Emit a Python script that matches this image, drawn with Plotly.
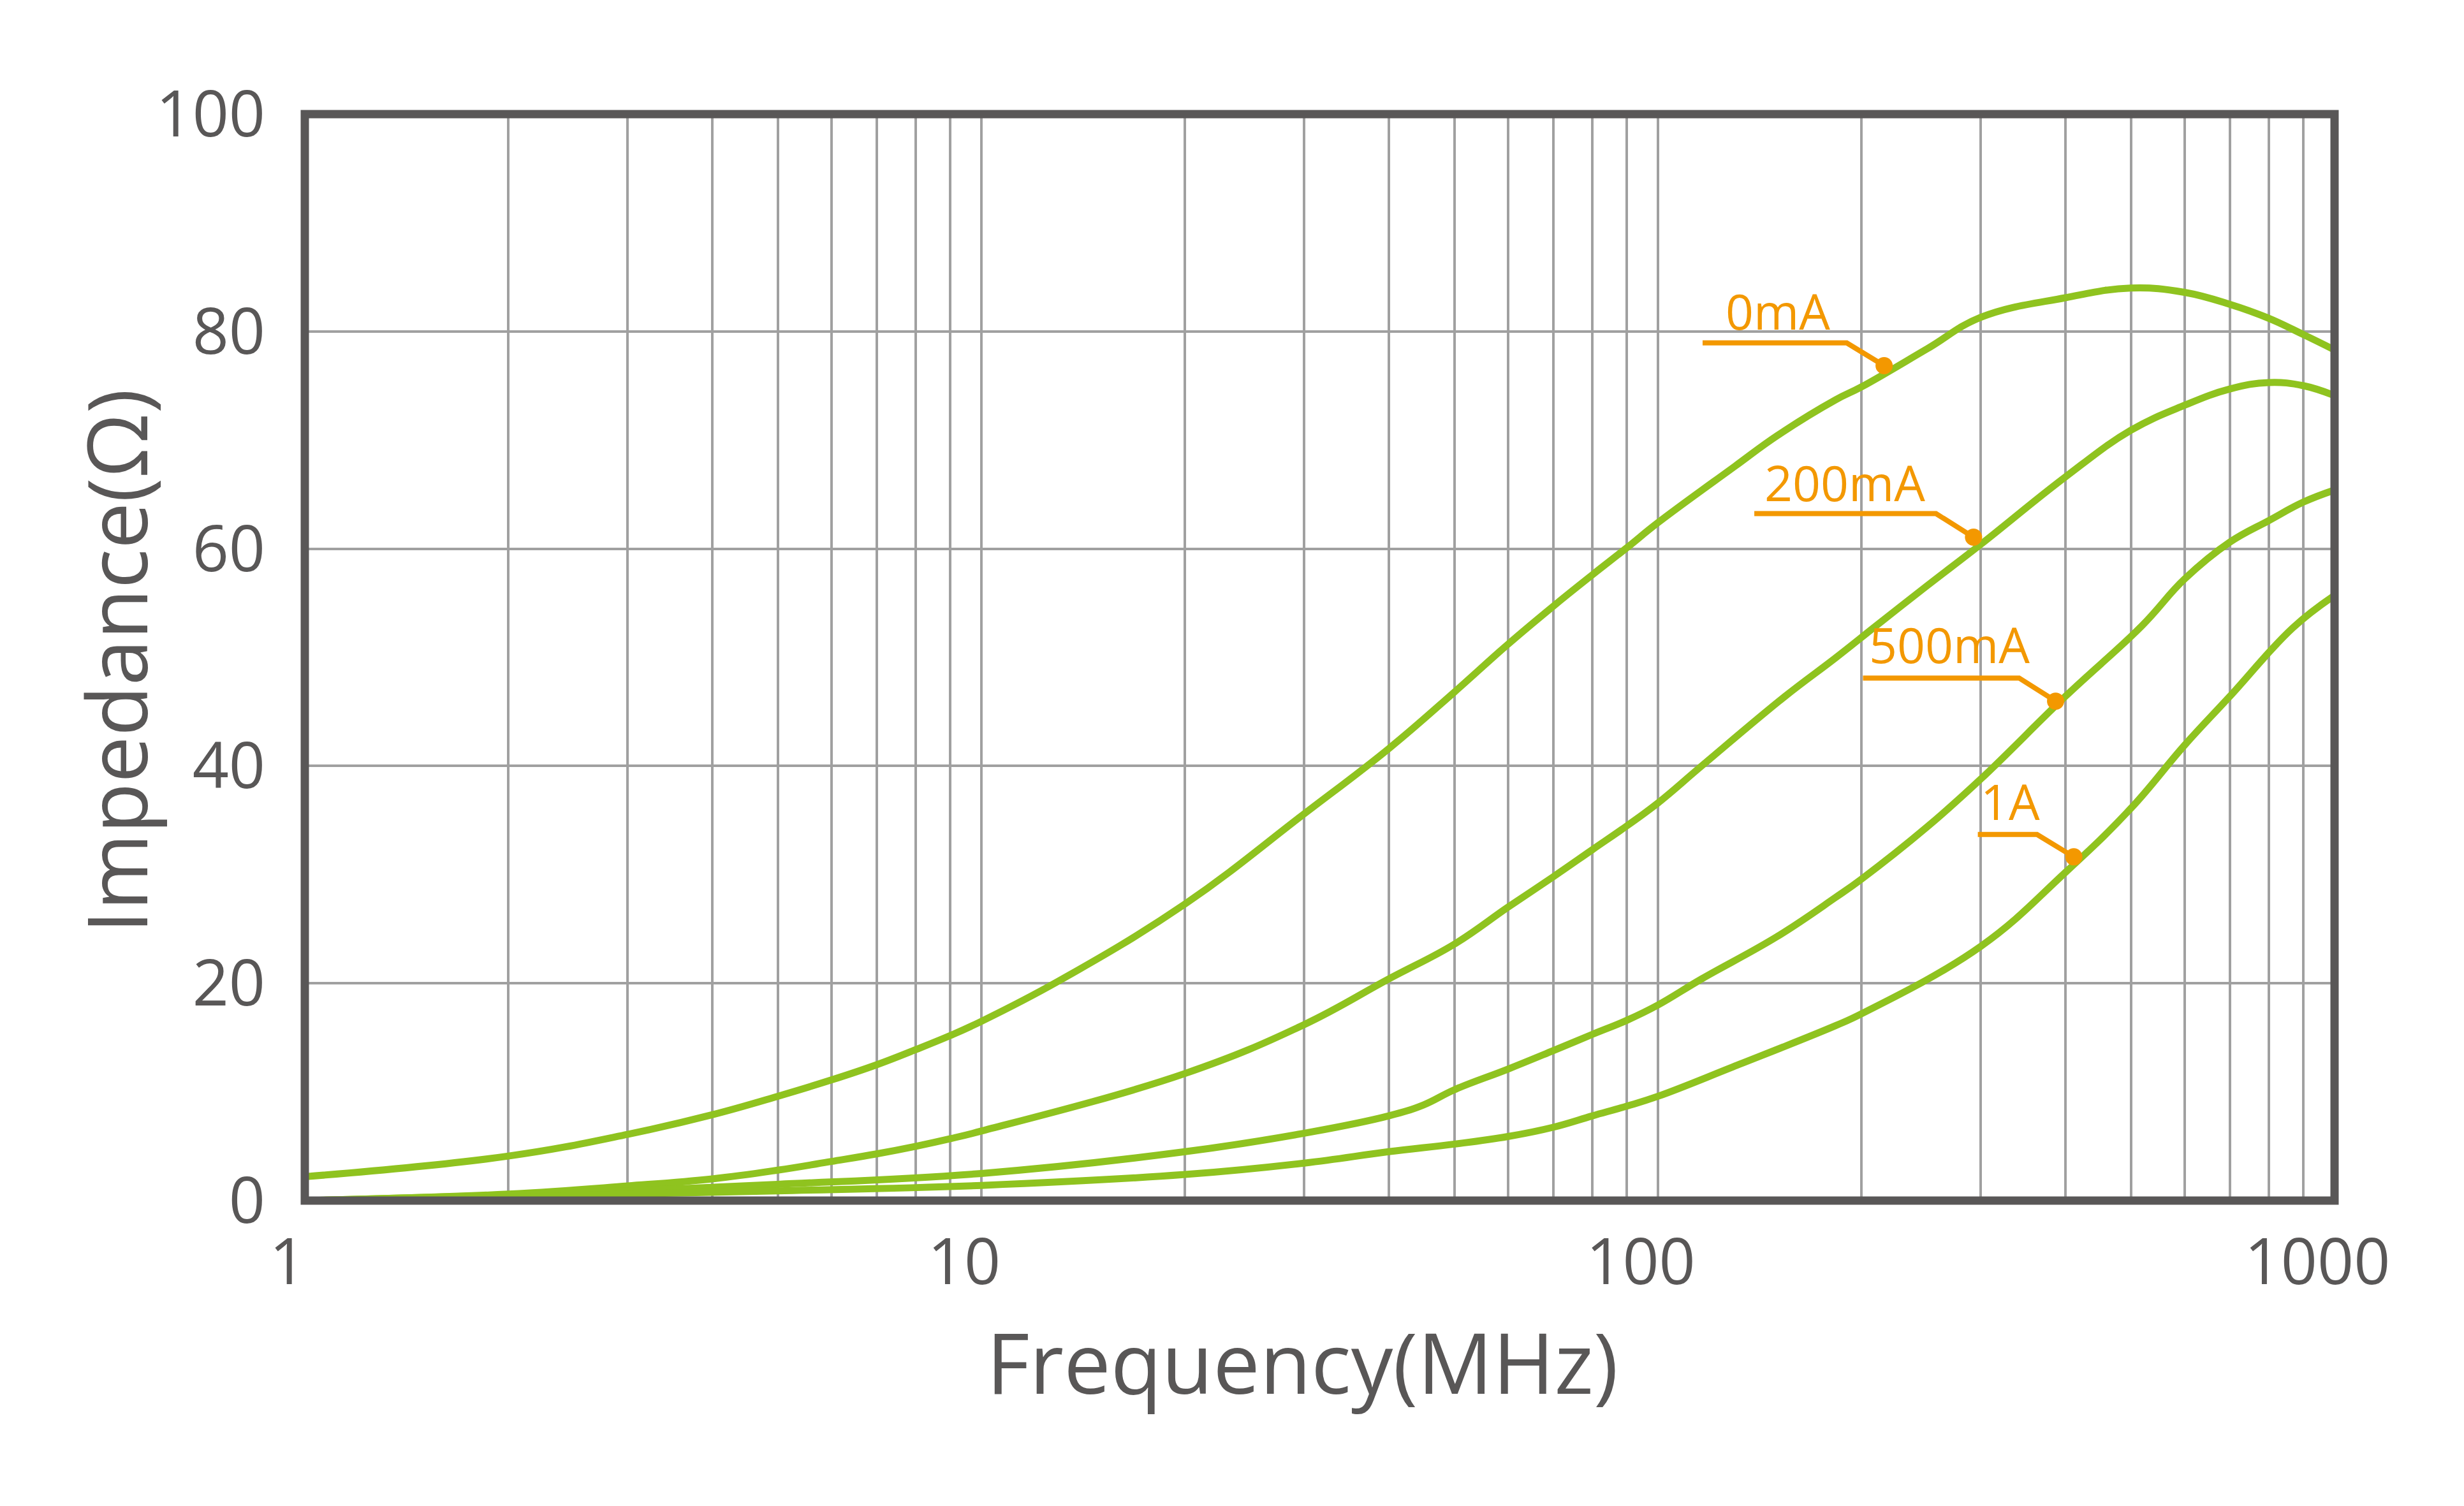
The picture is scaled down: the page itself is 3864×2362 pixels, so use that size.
import math
import plotly.graph_objects as go

# ---------------- data ----------------
freq_0mA = [1, 2, 3, 4, 5, 6, 7, 8, 9, 10, 13, 20, 30, 40, 50, 60, 70, 80, 90, 100,
            130, 150, 183, 200, 250, 300, 400, 500, 600, 700, 800, 900, 1000]
imp_0mA = [2.2, 4.1, 6.1, 7.9, 9.6, 11.1, 12.5, 13.9, 15.2, 16.5, 20.2, 27.3, 35.6, 41.6, 46.8, 51.2,
           54.7, 57.6, 60.1, 62.4, 67.6, 70.4, 73.7, 74.9, 78.4, 81.3, 83.1, 84.0, 83.6, 82.5, 81.2, 79.7, 78.3]

freq_200mA = [1, 2, 3, 4, 5, 6, 7, 8, 9, 10, 20, 30, 40, 50, 60, 70, 80, 90, 100, 116,
              154, 183, 210, 250, 300, 400, 500, 600, 700, 800, 900, 1000]
imp_200mA = [0.0, 0.6, 1.35, 2.0, 2.8, 3.6, 4.3, 5.0, 5.7, 6.4, 11.7, 16.2, 20.4, 23.6, 27.0, 29.8,
             32.3, 34.5, 36.6, 40.0, 46.4, 49.95, 52.9, 56.6, 60.4, 66.6, 70.9, 73.2, 74.7, 75.3, 75.0, 74.1]

freq_500mA = [1, 2, 3, 5, 10, 20, 30, 40, 45, 50, 60, 70, 80, 90, 100, 116, 150, 183, 200,
              250, 300, 400, 519, 600, 700, 800, 900, 1000]
imp_500mA = [0.0, 0.5, 0.9, 1.5, 2.5, 4.5, 6.2, 7.8, 8.8, 10.2, 12.1, 13.8, 15.3, 16.6, 18.0, 20.4,
             24.3, 27.9, 29.6, 34.4, 38.8, 46.4, 52.9, 57.2, 60.6, 62.6, 64.3, 65.4]

freq_1A = [1, 2, 3, 5, 10, 20, 30, 40, 50, 60, 70, 80, 90, 100, 129, 183, 200, 300, 400,
           500, 600, 700, 867, 1000]
imp_1A = [0.0, 0.3, 0.6, 0.9, 1.4, 2.4, 3.45, 4.5, 5.2, 5.9, 6.75, 7.8, 8.7, 9.6, 12.3, 16.1, 17.2,
          23.4, 30.2, 36.1, 41.9, 46.4, 52.7, 55.7]

series_names = ["0mA", "200mA", "500mA", "1A"]

# label leader lines: [start of underline, elbow, dot] in (MHz, Ohm)
label_line_freq = {
    "0mA": [116.4, 190.1, 215.9],
    "200mA": [138.8, 257.6, 292.7],
    "500mA": [200.9, 341.8, 387.0],
    "1A": [297.0, 363.3, 411.7],
}
label_line_imp = {
    "0mA": [78.94, 78.94, 76.85],
    "200mA": [63.23, 63.23, 61.06],
    "500mA": [48.1, 48.1, 45.97],
    "1A": [33.7, 33.7, 31.64],
}
label_text_freq = {"0mA": 150.4, "200mA": 188.7, "500mA": 269.6, "1A": 331.4}
label_text_imp = {"0mA": 79.9, "200mA": 64.1, "500mA": 49.2, "1A": 34.74}

x_major = [1, 10, 100, 1000]
x_grid = [m * d for d in [1, 10, 100] for m in range(1, 10)] + [1000]
x_ticktext = [str(v) if v in x_major else "" for v in x_grid]
y_ticks = [0, 20, 40, 60, 80, 100]

# ---------------- styles ----------------
GREEN = "#8FC31F"
ORANGE = "#F39800"
DARK = "#595757"
GRID = "#A0A0A0"
FONT = "Open Sans"

# page body has an 8px margin, so the figure is offset by 8px
W, H = 3848, 2346
ML, MT = 470, 171
PW, PH = 3183, 1704
MR = W - ML - PW
MB = H - MT - PH

fig = go.Figure()

curves = [(freq_0mA, imp_0mA), (freq_200mA, imp_200mA), (freq_500mA, imp_500mA), (freq_1A, imp_1A)]
for name, (fx, zy) in zip(series_names, curves):
    fig.add_trace(go.Scatter(
        x=fx, y=zy, mode="lines", name=name,
        line=dict(color=GREEN, width=11, shape="spline", smoothing=1.15),
        showlegend=False, hoverinfo="skip",
    ))

for name in series_names:
    fig.add_trace(go.Scatter(
        x=label_line_freq[name], y=label_line_imp[name], mode="lines",
        line=dict(color=ORANGE, width=8), showlegend=False, hoverinfo="skip",
    ))
    fig.add_trace(go.Scatter(
        x=[label_line_freq[name][-1]], y=[label_line_imp[name][-1]], mode="markers",
        marker=dict(color=ORANGE, size=27), showlegend=False, hoverinfo="skip",
    ))
    fig.add_annotation(
        x=math.log10(label_text_freq[name]), y=label_text_imp[name], xref="x", yref="y",
        text=name, showarrow=False, xanchor="center", yanchor="bottom", yshift=-20,
        font=dict(family=FONT, size=77, color=ORANGE),
    )

# axis titles
fig.add_annotation(
    x=0.5, y=0, xref="paper", yref="paper", text="Frequency(MHz)", showarrow=False,
    xanchor="center", yanchor="middle", xshift=-27, yshift=-252,
    font=dict(family=FONT, size=131, color=DARK),
)
fig.add_annotation(
    x=0, y=0.5, xref="paper", yref="paper", text="Impedance(Ω)", showarrow=False,
    textangle=-90, xanchor="center", yanchor="middle", xshift=-298, yshift=-6,
    font=dict(family=FONT, size=130, color=DARK),
)

# frame
fig.add_shape(type="rect", xref="paper", yref="paper", x0=0, x1=1, y0=0, y1=1,
              line=dict(color=DARK, width=13), layer="above")

fig.update_xaxes(
    type="log", range=[0, 3], tickmode="array", tickvals=x_grid, ticktext=x_ticktext,
    showgrid=True, gridcolor=GRID, gridwidth=4, showline=False, zeroline=False,
    ticks="", tickfont=dict(family=FONT, size=100, color=DARK),
    ticklabelstandoff=30, ticklabelshift=-27,
)
fig.update_yaxes(
    range=[0, 100], tickmode="array", tickvals=y_ticks,
    showgrid=True, gridcolor=GRID, gridwidth=4, showline=False, zeroline=False,
    ticks="", tickfont=dict(family=FONT, size=100, color=DARK),
    ticklabelstandoff=61,
)

fig.update_layout(
    width=W, height=H, autosize=False,
    margin=dict(l=ML, r=MR, t=MT, b=MB, autoexpand=False),
    paper_bgcolor="white", plot_bgcolor="white",
    showlegend=False,
)

fig.write_html("out.html", config={"displayModeBar": False})
